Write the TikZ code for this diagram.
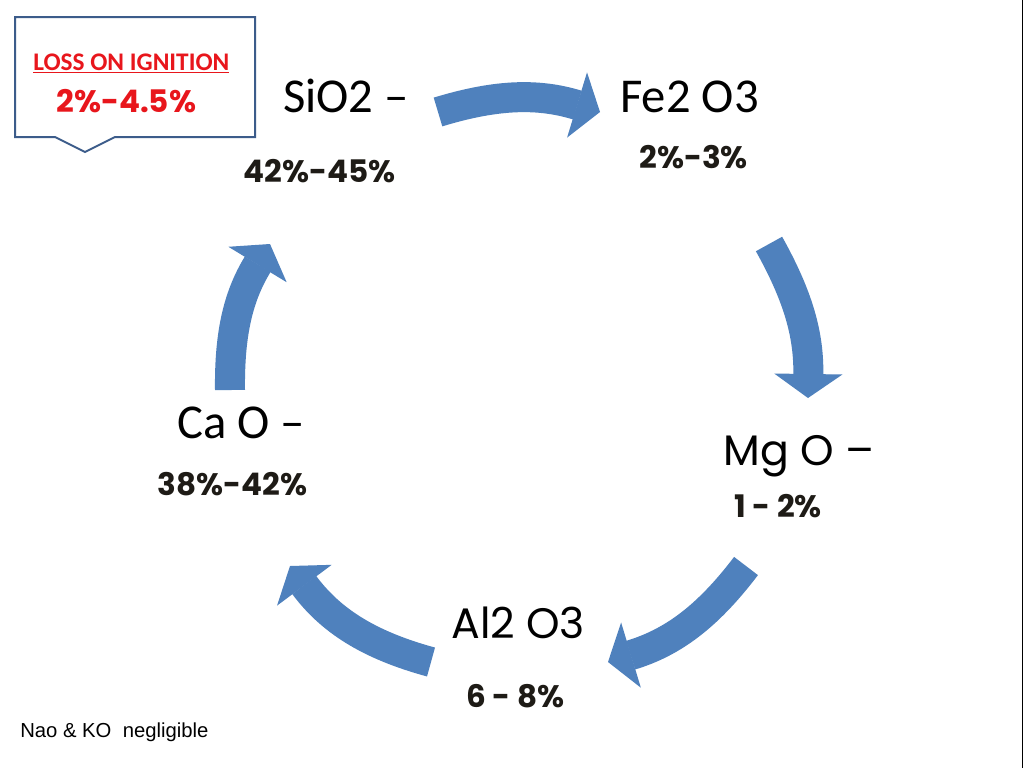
\documentclass[tikz,border=0pt]{standalone}
\usepackage{fontspec}
\setmainfont{Carlito}
\newfontfamily\geofont{Poppins}
\newfontfamily\arialfont{Liberation Sans}
\usetikzlibrary{arrows.meta,positioning}
\definecolor{cycleblue}{RGB}{79,129,189}
\definecolor{boxblue}{RGB}{60,92,138}
\definecolor{lossred}{RGB}{232,22,28}
\definecolor{pctblack}{RGB}{30,27,22}

\begin{document}
\begin{tikzpicture}[x=0.75pt,y=-0.75pt]
\tikzstyle{oxide} = [inner sep=0pt, anchor=base west, font=\fontsize{36.5}{40}\selectfont]
\tikzstyle{oxidegeo} = [oxide, font=\geofont\fontsize{32}{38}\selectfont]
\tikzstyle{pct} = [inner sep=0pt, anchor=base west, text=pctblack,
  font=\geofont\bfseries\fontsize{23.3}{27}\selectfont]
\tikzstyle{cyclearrow} = [draw=cycleblue, line width=22.5pt,
  -{Triangle[length=18pt 0, width=51pt 0, line width=1pt 0]}]
\tikzstyle{calloutbox} = [draw=boxblue, line width=1.5pt, fill=white, line join=miter]

    \useasboundingbox (0,0) rectangle (1023,768);
    \fill[white] (0,0) rectangle (1023,768);
    \fill[black] (1021.5,0) rectangle (1023,768);

    % oxides and their shares
    \node[oxide] (sio2) at (283,112) {SiO2 –};
    \node[pct] (sio2pct) at (243,182) {42\%-45\%};
    \node[oxide] (fe2o3) at (620,112) {Fe2 O3};
    \node[pct] (fe2o3pct) at (639,168) {2\%-3\%};
    \node[oxidegeo] (mgo) at (723,465) {Mg O –};
    \node[pct] (mgopct) at (734,517) {1 - 2\%};
    \node[oxidegeo] (al2o3) at (451,638) {Al2 O3};
    \node[pct] (al2o3pct) at (466,707) {6 - 8\%};
    \node[oxide] (cao) at (177,438) {Ca O –};
    \node[pct] (caopct) at (157,495) {38\%-42\%};

    % loss on ignition callout
    \draw[calloutbox] (15,17) -- (255,17) -- (255,137) -- (115,137) -- (85,152)
      -- (55,137) -- (15,137) -- cycle;
    \node[inner sep=0pt, anchor=base west, text=lossred,
      font=\bfseries\fontsize{19}{22}\selectfont] (loss) at (33,70) {\underline{LOSS ON IGNITION}};
    \node[pct, text=lossred] (losspct) at (56,112) {2\%-4.5\%};

    \node[inner sep=0pt, anchor=base west, font=\arialfont\fontsize{15.2}{18}\selectfont]
      (note) at (20,737) {Nao \& KO\ \ negligible};

    % cycle arrows
    \coordinate (a1s) at (438,112);
    \coordinate (a1e) at (600,112);
    \coordinate (a2s) at (769,244);
    \coordinate (a2e) at (808,398);
    \coordinate (a3s) at (746,566);
    \coordinate (a3e) at (608,662);
    \coordinate (a4s) at (431,662);
    \coordinate (a4e) at (290,566);
    \coordinate (a5s) at (230,390);
    \coordinate (a5e) at (270,244);
    \draw[cyclearrow] (a1s) to[bend left=17] (a1e);
    \draw[cyclearrow] (a2s) to[bend left=15] (a2e);
    \draw[cyclearrow] (a3s) to[bend left=18] (a3e);
    \draw[cyclearrow] (a4s) to[bend left=19] (a4e);
    \draw[cyclearrow] (a5s) to[bend left=16] (a5e);
\end{tikzpicture}
\end{document}
